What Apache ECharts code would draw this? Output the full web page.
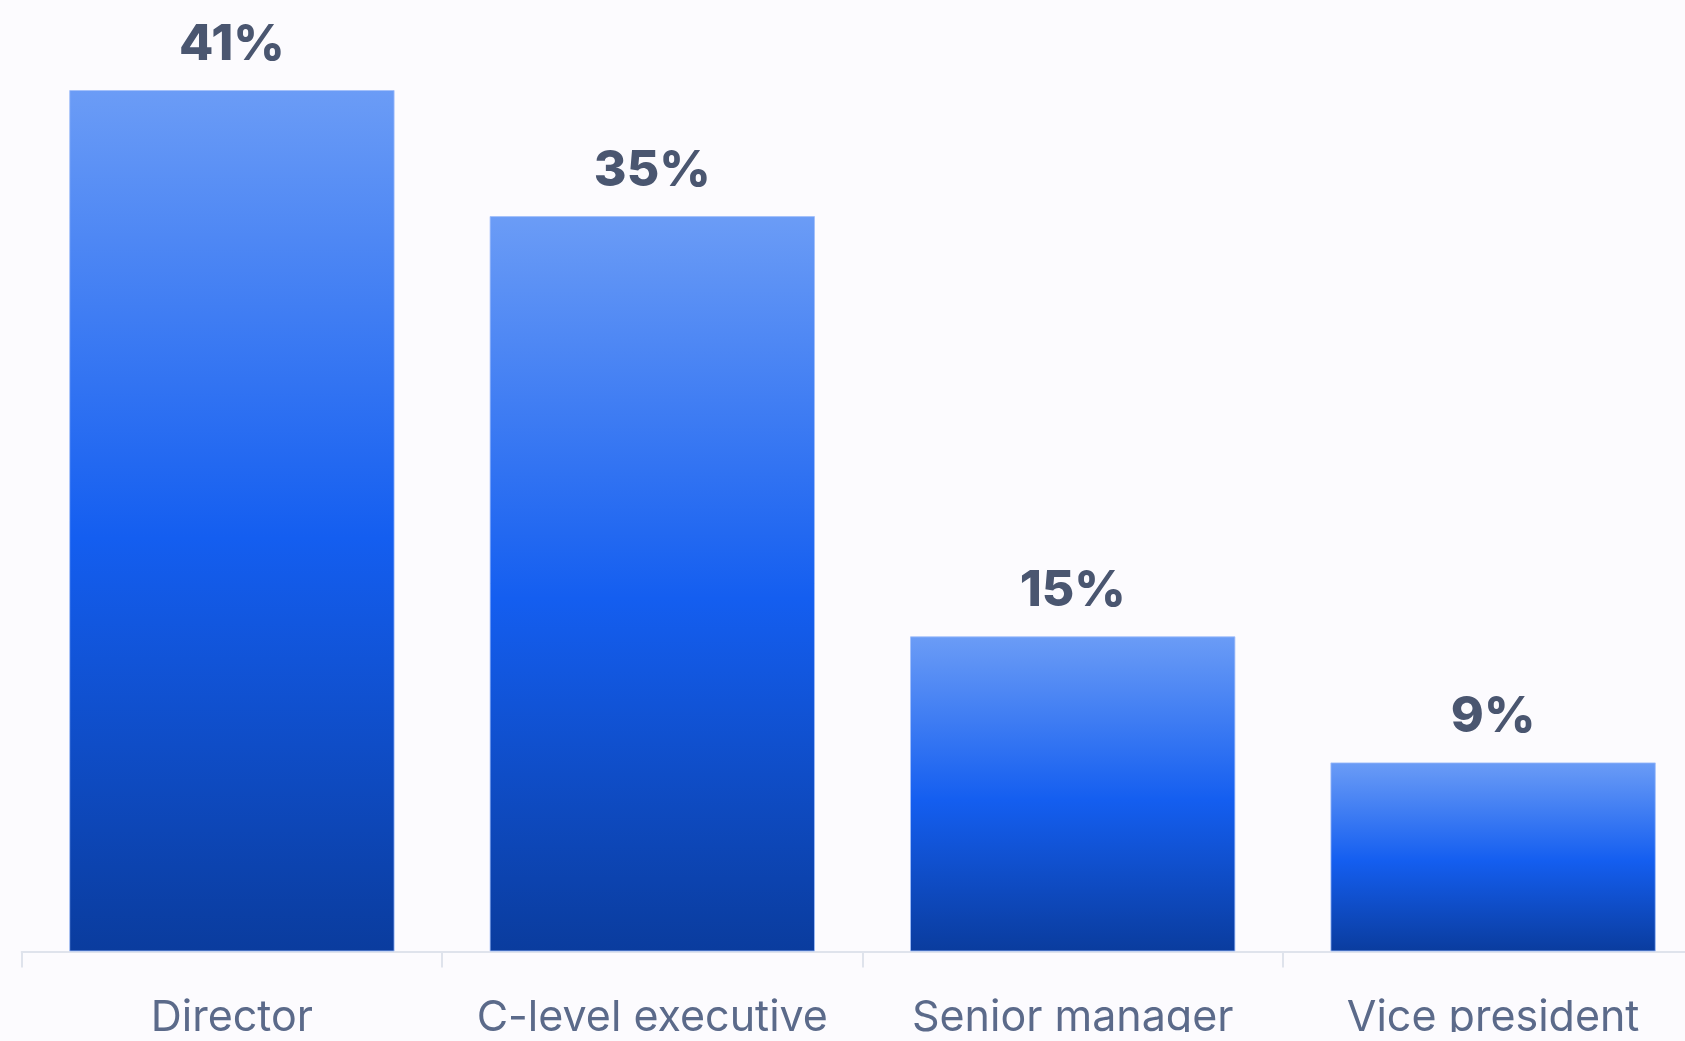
<!DOCTYPE html>
<html>
<head>
<meta charset="utf-8">
<script src="https://cdn.jsdelivr.net/npm/echarts@6/dist/echarts.min.js"></script>
<style>
  html, body { margin: 0; padding: 0; background: #fcfbfe; overflow: hidden; }
  #wrap { width: 1685px; height: 1041px; overflow: hidden; background: #fcfbfe; }
  #chart { width: 1685px; height: 1032px; }
</style>
</head>
<body>
<div id="wrap"><div id="chart"></div></div>
<script>
const categories = ['Director', 'C-level executive', 'Senior manager', 'Vice president'];
const values = [41, 35, 15, 9];
const valueLabels = ['41%', '35%', '15%', '9%'];

const chart = echarts.init(document.getElementById('chart'), null, { renderer: 'canvas' });
chart.setOption({
  backgroundColor: '#fcfbfe',
  animation: false,
  grid: {
    left: 21.7, top: 90, width: 1681.6, height: 861.5,
    containLabel: false, outerBoundsMode: 'none'
  },
  xAxis: {
    type: 'category',
    data: categories,
    boundaryGap: true,
    axisLine: { show: true, lineStyle: { color: '#dfe3ec', width: 2 } },
    axisTick: { show: true, length: 16, lineStyle: { color: '#dfe3ec', width: 2 } },
    axisLabel: {
      color: '#5b6a8a',
      fontFamily: 'Inter, "Open Sans", sans-serif',
      fontSize: 43,
      margin: 45,
      interval: 0,
      hideOverlap: false
    }
  },
  yAxis: {
    type: 'value', min: 0, max: 41, show: false,
    splitLine: { show: false }
  },
  series: [{
    type: 'bar',
    data: values,
    barWidth: '77.4%',
    itemStyle: {
      color: new echarts.graphic.LinearGradient(0, 0, 0, 1, [
        { offset: 0, color: '#6b9cf6' },
        { offset: 0.52, color: '#145ef0' },
        { offset: 1, color: '#0a3c9e' }
      ]),
      borderColor: 'rgba(160,190,250,0.8)',
      borderWidth: 1
    },
    label: {
      show: true,
      position: 'top',
      distance: 20,
      formatter: function (p) { return valueLabels[p.dataIndex]; },
      color: '#4a5670',
      fontFamily: 'Inter, "Open Sans", sans-serif',
      fontWeight: 800,
      fontSize: 50
    }
  }]
});
</script>
</body>
</html>
